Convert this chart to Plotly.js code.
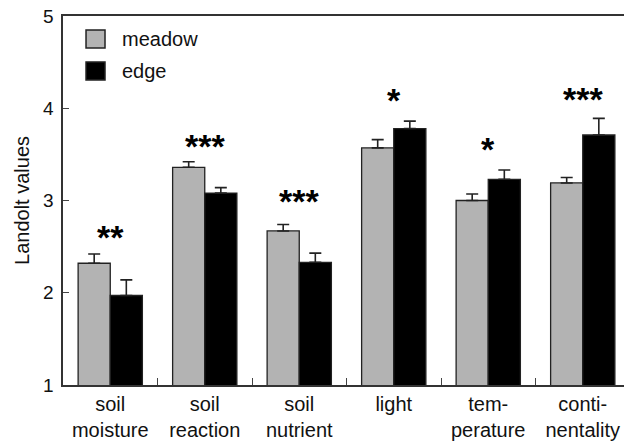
<!DOCTYPE html>
<html>
<head>
<meta charset="utf-8">
<script src="https://cdn.plot.ly/plotly-3.0.1.min.js"></script>
<style>
  html, body { margin: 0; padding: 0; background: #fff; overflow: hidden; width: 624px; height: 442px; }
  #chart { width: 632px; height: 442px; }
</style>
</head>
<body>
<div id="chart"></div>
<script>
// ---- data ----
var categories = ["soil moisture", "soil reaction", "soil nutrient", "light", "temperature", "continentality"];
var tickLabels = ["soil<br>moisture", "soil<br>reaction", "soil<br>nutrient", "light", "tem-<br>perature", "conti-<br>nentality"];
var meadowValues = [2.32, 3.36, 2.67, 3.57, 3.00, 3.19];
var meadowErrors = [0.10, 0.06, 0.07, 0.09, 0.07, 0.06];
var edgeValues = [1.97, 3.08, 2.33, 3.78, 3.23, 3.71];
var edgeErrors = [0.17, 0.06, 0.10, 0.08, 0.10, 0.18];
var sigLabels = ["**", "***", "***", "*", "*", "***"];
var sigY = [2.66, 3.64, 3.05, 4.14, 3.61, 4.15];
var seriesNames = ["meadow", "edge"];
var yTicks = [1, 2, 3, 4, 5];

var FONT = "Liberation Sans, Arial, Helvetica, sans-serif";
var DARK = "#222222";
var GRAY = "#b3b3b3";

var zeros = categories.map(function () { return 0; });

var traces = [
  {
    type: "bar", name: seriesNames[0], x: categories, y: meadowValues,
    marker: { color: GRAY, line: { color: DARK, width: 1.3 } },
    error_y: { type: "data", array: meadowErrors, arrayminus: zeros, symmetric: false,
               color: DARK, thickness: 1.6, width: 6 },
    showlegend: false, hoverinfo: "skip"
  },
  {
    type: "bar", name: seriesNames[1], x: categories, y: edgeValues,
    marker: { color: "#000000", line: { color: DARK, width: 1.3 } },
    error_y: { type: "data", array: edgeErrors, arrayminus: zeros, symmetric: false,
               color: DARK, thickness: 1.6, width: 6 },
    showlegend: false, hoverinfo: "skip"
  }
];

var annotations = [];
for (var i = 0; i < categories.length; i++) {
  annotations.push({
    x: categories[i], y: sigY[i], xref: "x", yref: "y",
    text: "<b>" + sigLabels[i] + "</b>", showarrow: false,
    font: { family: FONT, size: 34, color: "#000" },
    xanchor: "center", yanchor: "middle", yshift: -5
  });
}
// legend drawn as annotations + shapes
var legendColors = [GRAY, "#000000"];
var shapes = [];
var legendTop = [30, 62]; // px from top of figure for legend squares
for (var k = 0; k < seriesNames.length; k++) {
  annotations.push({
    x: 0.1, y: 1 - (legendTop[k] + 9 - 16) / 369.5, xref: "paper", yref: "paper",
    text: seriesNames[k], showarrow: false, xanchor: "left", yanchor: "middle",
    font: { family: FONT, size: 20, color: "#111" }
  });
  shapes.push({
    type: "rect", xref: "paper", yref: "paper",
    x0: 0.0406, x1: 0.0741,
    y0: 1 - (legendTop[k] + 18 - 16) / 369.5, y1: 1 - (legendTop[k] - 16) / 369.5,
    fillcolor: legendColors[k], line: { color: DARK, width: 1.5 }
  });
}

var layout = {
  width: 632, height: 442,
  margin: { l: 63, r: 2, t: 16, b: 56.5 },
  paper_bgcolor: "#ffffff", plot_bgcolor: "#ffffff",
  barmode: "group", bargap: 0.32, bargroupgap: 0,
  font: { family: FONT, size: 19, color: "#111" },
  xaxis: {
    type: "category", range: [-0.5, 5.5],
    tickmode: "array", tickvals: categories, ticktext: tickLabels,
    tickson: "boundaries", ticks: "inside", ticklen: 7, tickcolor: "#444", tickwidth: 1,
    showline: true, linecolor: "#333", linewidth: 1.6, mirror: true,
    showgrid: false, zeroline: false,
    tickfont: { family: FONT, size: 20, color: "#111" }
  },
  yaxis: {
    range: [1, 5], tickvals: yTicks, ticks: "inside", ticklen: 6, tickcolor: "#444", tickwidth: 1,
    showline: true, linecolor: "#333", linewidth: 1.6, mirror: true,
    showgrid: false, zeroline: false, ticklabelstandoff: 4,
    tickfont: { family: FONT, size: 19, color: "#111" },
    title: { text: "Landolt values", font: { family: FONT, size: 20, color: "#111" }, standoff: 8 }
  },
  annotations: annotations,
  shapes: shapes
};

Plotly.newPlot("chart", traces, layout, { displayModeBar: false, staticPlot: true });
</script>
</body>
</html>
